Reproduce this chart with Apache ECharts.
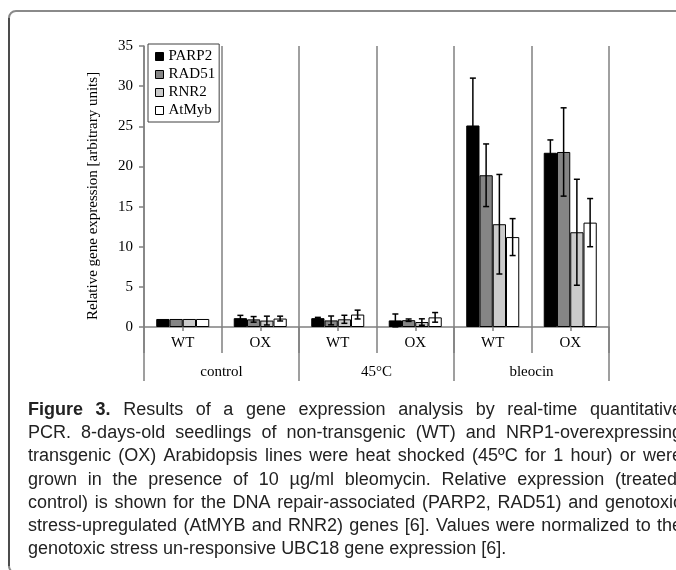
<!DOCTYPE html>
<html>
<head>
<meta charset="utf-8">
<script src="https://cdn.jsdelivr.net/npm/echarts@6/dist/echarts.min.js"></script>
<style>
html,body{margin:0;padding:0;background:#fff;}
#chart{width:676px;height:570px;}
</style>
</head>
<body>
<div id="chart"></div>
<script>
// ---- data ----
const categories = ['WT', 'OX', 'WT', 'OX', 'WT', 'OX'];
const conditions = ['control', '45°C', 'bleocin'];
const seriesNames = ['PARP2', 'RAD51', 'RNR2', 'AtMyb'];
const parp2    = [1.0, 1.1, 1.1, 0.82, 25.1, 21.7];
const parp2Err = [0, 0.35, 0.1, 0.8, 5.9, 1.6];
const rad51    = [1.0, 0.95, 0.82, 0.85, 18.9, 21.8];
const rad51Err = [0, 0.35, 0.55, 0.15, 3.9, 5.5];
const rnr2     = [1.0, 0.8, 0.96, 0.62, 12.8, 11.8];
const rnr2Err  = [0, 0.55, 0.5, 0.4, 6.2, 6.6];
const atmyb    = [1.0, 1.05, 1.55, 1.2, 11.2, 13.0];
const atmybErr = [0, 0.3, 0.55, 0.6, 2.3, 3.0];
const yTicks = { min: 0, max: 35, interval: 5 };
const yAxisTitle = 'Relative gene expression [arbitrary units]';
const captionLines = [
  'Figure 3. Results of a gene expression analysis by real-time quantitative',
  'PCR. 8-days-old seedlings of non-transgenic (WT) and NRP1-overexpressing',
  'transgenic (OX) Arabidopsis lines were heat shocked (45ºC for 1 hour) or were',
  'grown in the presence of 10 µg/ml bleomycin. Relative expression (treated/',
  'control) is shown for the DNA repair-associated (PARP2, RAD51) and genotoxic',
  'stress-upregulated (AtMYB and RNR2) genes [6]. Values were normalized to the',
  'genotoxic stress un-responsive UBC18 gene expression [6].'
];

// ---- styles ----
const values = [parp2, rad51, rnr2, atmyb];
const errors = [parp2Err, rad51Err, rnr2Err, atmybErr];
const colors = ['#000000', '#858585', '#cbcbcb', '#ffffff'];
const SERIF = '"Liberation Serif", "Times New Roman", serif';
const SANS = '"Liberation Sans", Arial, sans-serif';
const GRAY = '#808080';
const GAP = 0.316;

const chart = echarts.init(document.getElementById('chart'));

const barSeries = seriesNames.map((name, i) => ({
  name: name,
  type: 'bar',
  xAxisIndex: 0,
  yAxisIndex: 0,
  data: values[i],
  barGap: '0%',
  barCategoryGap: (GAP * 100) + '%',
  itemStyle: { color: colors[i], borderColor: '#000', borderWidth: 1 },
  z: 2
}));

const errSeries = seriesNames.map((name, i) => ({
  name: name + ' error',
  type: 'custom',
  xAxisIndex: 0,
  yAxisIndex: 0,
  data: values[i].map((v, k) => [k, v, errors[i][k]]),
  encode: { x: 0, y: 1 },
  z: 5,
  silent: true,
  renderItem: function (params, api) {
    const k = api.value(0), v = api.value(1), e = api.value(2);
    if (!e) return null;
    const band = api.size([1, 0])[0];
    const bw = band * (1 - GAP) / 4;
    const c = api.coord([k, v]);
    const x = c[0] - 2 * bw + bw * (i + 0.5);
    const yTop = api.coord([k, v + e])[1];
    const yBot = api.coord([k, Math.max(v - e, 0)])[1];
    const cap = 3;
    const st = { stroke: '#000', lineWidth: 1.5, fill: null };
    return {
      type: 'group',
      children: [
        { type: 'line', shape: { x1: x, y1: yTop, x2: x, y2: yBot }, style: st },
        { type: 'line', shape: { x1: x - cap, y1: yTop, x2: x + cap, y2: yTop }, style: st },
        { type: 'line', shape: { x1: x - cap, y1: yBot, x2: x + cap, y2: yBot }, style: st }
      ]
    };
  }
}));

// caption (justified, word by word)
function buildCaption() {
  const ctx = document.createElement('canvas').getContext('2d');
  const left = 28, right = 682, top = 410, lh = 23.2;
  const els = [];
  captionLines.forEach((line, li) => {
    const words = line.split(' ');
    const fonts = words.map((w, wi) => (li === 0 && wi < 2) ? 'bold 18px ' + SANS : '18px ' + SANS);
    const widths = words.map((w, wi) => { ctx.font = fonts[wi]; return ctx.measureText(w).width; });
    ctx.font = '18px ' + SANS;
    const space = ctx.measureText(' ').width;
    const total = widths.reduce((a, b) => a + b, 0);
    const justify = li < captionLines.length - 1;
    const gap = justify ? (right - left - total) / (words.length - 1) : space;
    let x = left;
    words.forEach((w, wi) => {
      els.push({
        type: 'text', x: x, y: top + li * lh, silent: true,
        style: { text: w, font: fonts[wi], fill: '#222', textAlign: 'left', textVerticalAlign: 'middle' }
      });
      x += widths[wi] + gap;
    });
  });
  return els;
}

const graphics = [
  { type: 'rect', shape: { x: 9, y: 11, width: 720, height: 562, r: 7 }, style: { fill: null, stroke: '#8a8a8a', lineWidth: 2 }, silent: true },
  { type: 'line', shape: { x1: 9, y1: 18, x2: 9, y2: 566 }, style: { stroke: '#222', lineWidth: 1.2 }, silent: true },
  { type: 'text', x: 93, y: 196, rotation: Math.PI / 2, silent: true,
    style: { text: yAxisTitle, font: '15px ' + SERIF, fill: '#000', textAlign: 'center', textVerticalAlign: 'middle' } }
].concat(buildCaption());

const option = {
  animation: false,
  backgroundColor: '#fff',
  grid: { left: 144, top: 46, width: 465, height: 281, containLabel: false },
  legend: {
    data: seriesNames.map((n, i) => ({ name: n, icon: 'rect', itemStyle: { color: colors[i], borderColor: '#000', borderWidth: 1 } })),
    orient: 'vertical',
    left: 148, top: 44,
    itemWidth: 8, itemHeight: 8, itemGap: 3,
    padding: [5, 4, 4, 7],
    borderColor: '#404040', borderWidth: 1,
    backgroundColor: '#fff',
    textStyle: { fontFamily: SERIF, fontSize: 15, color: '#000' },
    selectedMode: false
  },
  xAxis: [
    {
      type: 'category', data: categories, position: 'bottom', boundaryGap: true,
      axisLine: { show: true, lineStyle: { color: GRAY, width: 1.5 } },
      axisTick: { show: true, length: 26, lineStyle: { color: GRAY, width: 1.5 } },
      axisLabel: { margin: 9, fontFamily: SERIF, fontSize: 15, color: '#000' },
      splitLine: { show: true, lineStyle: { color: GRAY, width: 1.5 } },
      z: 1
    },
    {
      type: 'category', data: categories, position: 'bottom', boundaryGap: true,
      axisLine: { show: false },
      axisTick: { show: true, alignWithLabel: true, length: 4, lineStyle: { color: GRAY, width: 1.5 } },
      axisLabel: { show: false },
      splitLine: { show: false }
    },
    {
      type: 'category', data: conditions, position: 'bottom', boundaryGap: true,
      axisLine: { show: false },
      axisTick: { show: true, length: 54, lineStyle: { color: GRAY, width: 1.5 } },
      axisLabel: { margin: 38, fontFamily: SERIF, fontSize: 15, color: '#000' },
      splitLine: { show: false }
    }
  ],
  yAxis: {
    type: 'value', min: yTicks.min, max: yTicks.max, interval: yTicks.interval,
    axisLine: { show: true, lineStyle: { color: GRAY, width: 1.5 } },
    axisTick: { show: true, inside: false, length: 5, lineStyle: { color: GRAY, width: 1.5 } },
    axisLabel: { margin: 11, fontFamily: SERIF, fontSize: 15, color: '#000' },
    splitLine: { show: false }
  },
  series: barSeries.concat(errSeries),
  graphic: graphics
};
chart.setOption(option);
</script>
</body>
</html>
